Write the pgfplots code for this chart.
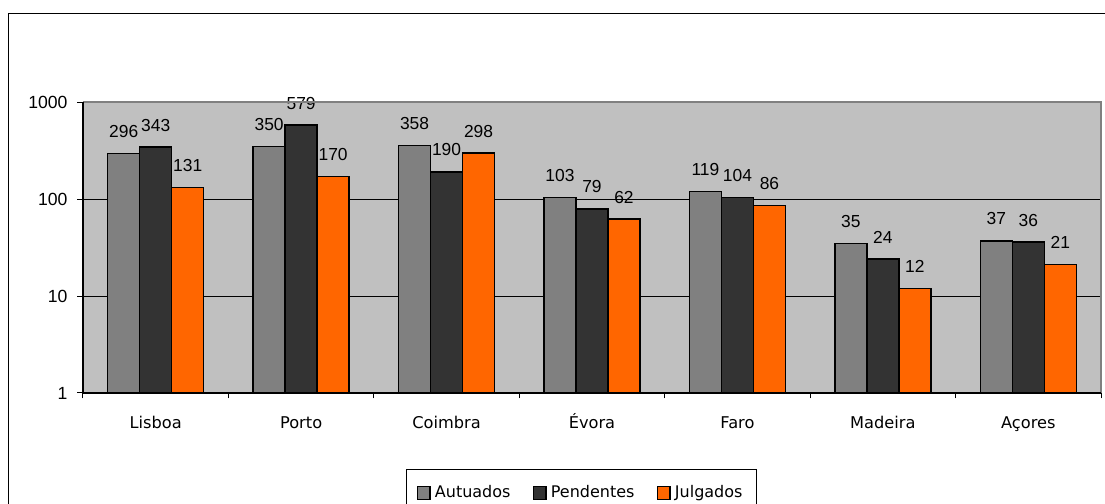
\documentclass[border=0pt]{standalone}
\usepackage{fontspec}
\setmainfont{Liberation Sans}
\newfontfamily\tahoma{DejaVu Sans}
\usepackage{pgfplots}
\pgfplotsset{compat=1.18}
\definecolor{plotbg}{HTML}{C0C0C0}
\definecolor{autgray}{HTML}{808080}
\definecolor{pendgray}{HTML}{333333}
\definecolor{julorange}{HTML}{FF6600}
\pgfplotsset{
  mybar/.style={fill=#1, draw=black, line width=0.7pt,
    legend image code/.code={\draw[fill=#1, draw=black, line width=0.8pt] (0pt,-3.2pt) rectangle (6.4pt,3.2pt);}},
}
\begin{document}
\begin{tikzpicture}
\begin{axis}[
  at={(41.5pt,55.5pt)}, anchor=south west,
  width=509pt, height=145.5pt, scale only axis,
  ymode=log, ymin=1, ymax=1000,
  ytick={1,10,100,1000}, yticklabels={1,10,100,1000},
  xmin=-0.5, xmax=6.5,
  xtick={-0.5,0.5,...,6.5},
  x tick label as interval,
  xticklabels={Lisboa,Porto,Coimbra,Évora,Faro,Madeira,Açores},
  xtick pos=left, ytick pos=left,
  tick align=outside, major tick length=2.75pt,
  tick style={black, line width=0.5pt},
  minor tick num=0, yminorticks=false,
  ymajorgrids, grid style={black, line width=0.5pt},
  axis background/.style={fill=plotbg},
  axis line style={draw=none},
  xticklabel style={font=\tahoma\fontsize{8.1}{10}\selectfont, anchor=base, yshift=-15pt},
  yticklabel style={font=\fontsize{8.8}{10}\selectfont, xshift=-1.5pt},
  ybar=0pt, bar width=16pt,
  nodes near coords={\pgfmathprintnumber[assume math mode=true]{\pgfplotspointmeta}},
  point meta=rawy,
  every node near coord/.append style={font=\fontsize{8.7}{10}\selectfont, anchor=base, yshift=8pt},
  legend columns=3,
  legend style={at={(0.4897,-0.2612)}, anchor=north, draw=black, line width=0.5pt,
    font=\tahoma\fontsize{8}{10}\selectfont, inner xsep=5pt, inner ysep=6pt,
    /tikz/every odd column/.append style={column sep=0pt},
    /tikz/every even column/.append style={column sep=9pt}},
  after end axis/.code={
    \draw[autgray, line width=0.6pt] (rel axis cs:0,1) -- (rel axis cs:1,1) -- (rel axis cs:1,0);
    \draw[black, line width=0.6pt] (rel axis cs:0,1) -- (rel axis cs:0,0) -- (rel axis cs:1,0);
  },
]
\addplot[mybar=autgray] coordinates {(0,296) (1,350) (2,358) (3,103) (4,119) (5,35) (6,37)};
\addplot[mybar=pendgray] coordinates {(0,343) (1,579) (2,190) (3,79) (4,104) (5,24) (6,36)};
\addplot[mybar=julorange] coordinates {(0,131) (1,170) (2,298) (3,62) (4,86) (5,12) (6,21)};
\legend{Autuados, Pendentes, Julgados}
\end{axis}
\draw[black, line width=0.5pt] (4pt,-20pt) -- (4pt,245pt) -- (580pt,245pt);
\pgfresetboundingbox
\path (0pt,0pt) rectangle (552.5pt,252pt);
\end{tikzpicture}
\end{document}
